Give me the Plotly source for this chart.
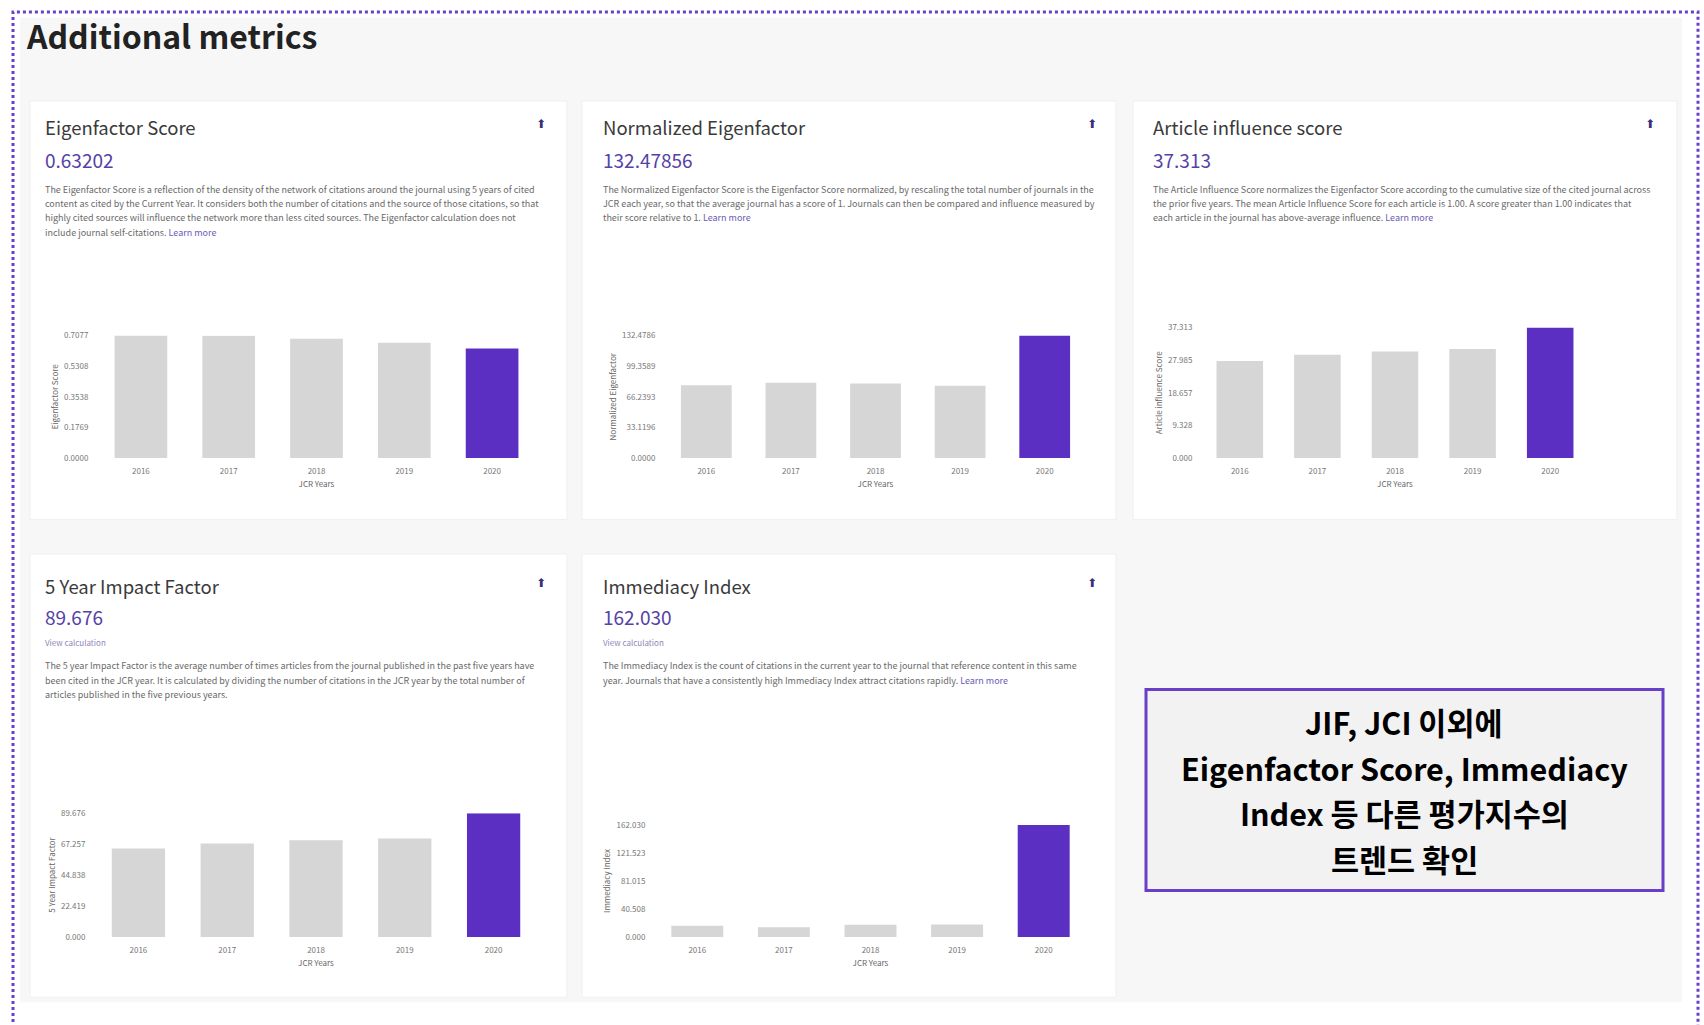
import plotly.graph_objects as go

W, H = 1704, 1025

# --- data ---
years = ["2016", "2017", "2018", "2019", "2020"]

eigen_score = [0.7077, 0.7060, 0.6890, 0.6650, 0.63202]
norm_eigen = [78.8, 81.3, 80.5, 78.1, 132.47856]
article_infl = [27.77, 29.52, 30.49, 31.18, 37.313]
five_year_if = [64.1, 67.7, 70.1, 71.3, 89.676]
immediacy = [16.2, 14.0, 17.5, 17.8, 162.030]

series = [eigen_score, norm_eigen, article_infl, five_year_if, immediacy]
card_titles = ["Eigenfactor Score", "Normalized Eigenfactor", "Article influence score",
               "5 Year Impact Factor", "Immediacy Index"]
value_labels = ["0.63202", "132.47856", "37.313", "89.676", "162.030"]
y_titles = ["Eigenfactor Score", "Normalized Eigenfactor", "Article influence Score",
            "5 Year Impact Factor", "Immediacy Index"]
tick_fmt = [".4f", ".4f", ".3f", ".3f", ".3f"]
has_calc_link = [False, False, False, True, True]

LINK = "<span style='color:#6b5bb5'>Learn more</span>"
descriptions = [
    ["The Eigenfactor Score is a reflection of the density of the network of citations around the journal using 5 years of cited",
     "content as cited by the Current Year. It considers both the number of citations and the source of those citations, so that",
     "highly cited sources will influence the network more than less cited sources. The Eigenfactor calculation does not",
     "include journal self-citations. " + LINK],
    ["The Normalized Eigenfactor Score is the Eigenfactor Score normalized, by rescaling the total number of journals in the",
     "JCR each year, so that the average journal has a score of 1. Journals can then be compared and influence measured by",
     "their score relative to 1. " + LINK],
    ["The Article Influence Score normalizes the Eigenfactor Score according to the cumulative size of the cited journal across",
     "the prior five years. The mean Article Influence Score for each article is 1.00. A score greater than 1.00 indicates that",
     "each article in the journal has above-average influence. " + LINK],
    ["The 5 year Impact Factor is the average number of times articles from the journal published in the past five years have",
     "been cited in the JCR year. It is calculated by dividing the number of citations in the JCR year by the total number of",
     "articles published in the five previous years."],
    ["The Immediacy Index is the count of citations in the current year to the journal that reference content in this same",
     "year. Journals that have a consistently high Immediacy Index attract citations rapidly. " + LINK],
]

note_lines = ["JIF, JCI 이외에", "Eigenfactor Score, Immediacy", "Index 등 다른 평가지수의", "트렌드 확인"]

# --- layout (pixels) ---
GREY = "#d6d6d6"
PURPLE = "#5b2fc2"
FONT = "Noto Sans CJK KR"

cards = [(30, 96, 567, 519), (582, 96, 1116, 519), (1133, 96, 1677, 519),
         (30, 554, 567, 1002), (582, 554, 1116, 1002)]
text_x = [43, 601, 1151, 43, 601]
icon_x = [541, 1092, 1650, 541, 1092]
row_top = [0, 0, 0, 1, 1]
title_y = [122, 586]
value_y = [155, 617]
calc_y = 643
desc_y0 = [185, 667]
desc_step = 14.5
plot_x = [(97, 536), (664, 1087), (1201, 1589), (94, 538), (654, 1087)]
plot_y = [(333, 457), (333, 457), (325, 457), (816, 941), (828, 941)]


def px(x):
    return x / W


def py(y):
    return 1 - y / H


fig = go.Figure()
shapes = []
annotations = []

# page background + dotted frame
shapes.append(dict(type="rect", xref="paper", yref="paper", layer="below",
                   x0=px(20), x1=px(1682), y0=py(1007), y1=py(12),
                   fillcolor="#f7f7f7", line_width=0))
for (x0, y0, x1, y1) in cards:
    shapes.append(dict(type="rect", xref="paper", yref="paper", layer="below",
                       x0=px(x0), x1=px(x1), y0=py(y1), y1=py(y0),
                       fillcolor="#ffffff", line=dict(color="#efefef", width=1)))
shapes.append(dict(type="rect", xref="paper", yref="paper",
                   x0=px(13), x1=px(1698), y0=py(1040), y1=py(6),
                   fillcolor="rgba(0,0,0,0)", line=dict(color="#6b3fc9", width=3, dash="dot")))

annotations.append(dict(text="Additional metrics", x=px(24), y=py(29), xref="paper", yref="paper",
                        xanchor="left", yanchor="middle", showarrow=False,
                        font=dict(family=FONT, size=32, color="#222222", weight="bold")))

for i, vals in enumerate(series):
    n = "" if i == 0 else str(i + 1)
    r = row_top[i]
    fig.add_trace(go.Bar(
        x=years, y=vals, xaxis="x" + n, yaxis="y" + n,
        marker=dict(color=[GREY] * 4 + [PURPLE], line_width=0),
        showlegend=False, hoverinfo="x+y"))

    m = max(vals)
    tv = [m * k / 4 for k in range(5)]
    fig.layout["xaxis" + n] = dict(
        domain=[px(plot_x[i][0]), px(plot_x[i][1])], anchor="y" + n,
        showgrid=False, zeroline=False, showline=False,
        ticks="outside", ticklen=5, tickcolor="rgba(0,0,0,0)",
        tickfont=dict(family=FONT, size=8, color="#777777"),
        title=dict(text="JCR Years", standoff=6, font=dict(family=FONT, size=8, color="#666666")))
    fig.layout["yaxis" + n] = dict(
        domain=[py(plot_y[i][1]), py(plot_y[i][0])], anchor="x" + n,
        range=[0, m], showgrid=False, zeroline=False, showline=False,
        tickvals=tv, ticktext=[format(v, tick_fmt[i]) for v in tv],
        ticks="outside", ticklen=6, tickcolor="rgba(0,0,0,0)",
        tickfont=dict(family=FONT, size=8, color="#777777"),
        title=dict(text=y_titles[i], standoff=4, font=dict(family=FONT, size=8, color="#666666")))

    # card texts
    annotations.append(dict(text=card_titles[i], x=px(text_x[i]), y=py(title_y[r]),
                            xref="paper", yref="paper", xanchor="left", yanchor="middle",
                            showarrow=False, font=dict(family=FONT, size=18.5, color="#3a3a3a")))
    annotations.append(dict(text=value_labels[i], x=px(text_x[i]), y=py(value_y[r]),
                            xref="paper", yref="paper", xanchor="left", yanchor="middle",
                            showarrow=False, font=dict(family=FONT, size=19, color="#5442a6")))
    annotations.append(dict(text="⬆", x=px(icon_x[i]), y=py(title_y[r] - 3),
                            xref="paper", yref="paper", xanchor="center", yanchor="middle",
                            showarrow=False, font=dict(family="DejaVu Sans", size=12, color="#3b2f7a")))
    if has_calc_link[i]:
        annotations.append(dict(text="View calculation", x=px(text_x[i]), y=py(calc_y),
                                xref="paper", yref="paper", xanchor="left", yanchor="middle",
                                showarrow=False, font=dict(family=FONT, size=8, color="#8f86b8")))
    for k, line in enumerate(descriptions[i]):
        annotations.append(dict(text=line, x=px(text_x[i]), y=py(desc_y0[r] + k * desc_step),
                                xref="paper", yref="paper", xanchor="left", yanchor="middle",
                                showarrow=False, font=dict(family=FONT, size=9, color="#6a6a6a")))

# note box
shapes.append(dict(type="rect", xref="paper", yref="paper",
                   x0=px(1146), x1=px(1663), y0=py(894), y1=py(691),
                   fillcolor="#f2f2f2", line=dict(color="#6a3fc8", width=3)))
for k, line in enumerate(note_lines):
    annotations.append(dict(text=line, x=px(1404), y=py(724 + 46 * k), xref="paper", yref="paper",
                            xanchor="center", yanchor="middle", showarrow=False, borderpad=0,
                            font=dict(family=FONT, size=30.5, color="#000000", weight="bold")))

fig.update_layout(
    width=W, height=H, margin=dict(l=0, r=0, t=0, b=0),
    paper_bgcolor="#ffffff", plot_bgcolor="rgba(0,0,0,0)",
    bargap=0.4, shapes=shapes, annotations=annotations,
    font=dict(family=FONT),
)

fig.write_html("out.html", config={"displayModeBar": False},
               post_script="document.body.style.margin='0';")
